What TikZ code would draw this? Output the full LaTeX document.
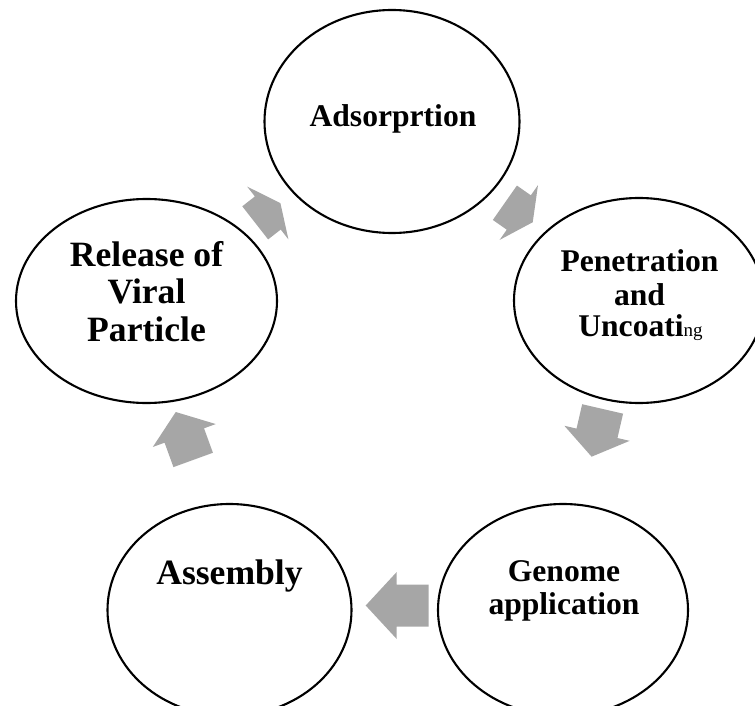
\documentclass[tikz,border=0pt]{standalone}
\usepackage{fontspec}
\setmainfont{Liberation Serif}
\usetikzlibrary{shapes.geometric}
\definecolor{arrowgray}{RGB}{166,166,166}
\tikzset{
  stage/.style={ellipse, draw=black, line width=2.1pt, fill=none, inner sep=0pt},
  stagetext/.style={anchor=base, inner sep=0pt, text=black},
  midtext/.style={stagetext, font=\fontsize{31.6}{31.6}\selectfont\bfseries},
  bigtext/.style={stagetext, font=\fontsize{35.6}{35.6}\selectfont\bfseries},
  cyclearrow/.style={fill=arrowgray, draw=none}
}
% base point x, y, angle, shaft length, head length
\newcommand\cyclearrowat[5]{%
  \fill[cyclearrow, shift={(#1,#2)}, rotate=#3]
    (-#4,-21) -- (0,-21) -- (0,-33.5) -- (#5,0) -- (0,33.5) -- (0,21) -- (-#4,21) -- cycle;}
\begin{document}
\begin{tikzpicture}[x=1pt, y=-1pt]
  \useasboundingbox (0,0) rectangle (755,706);
  % stages
  \node[stage, minimum width=255pt, minimum height=223pt] (ads) at (392,121.5) {};
  \node[stage, minimum width=250pt, minimum height=205pt] (pen) at (639,300.5) {};
  \node[stage, minimum width=250pt, minimum height=212pt] (gen) at (563,610) {};
  \node[stage, minimum width=244pt, minimum height=212pt] (asm) at (229.5,610) {};
  \node[stage, minimum width=261pt, minimum height=204pt] (rel) at (146.5,301) {};
  % texts
  \node[midtext] (ads-t) at (393,126.7) {Adsorprtion};
  \node[midtext] (pen-t1) at (639.5,271.7) {Penetration};
  \node[midtext] (pen-t2) at (639.5,305) {and};
  \node[midtext] (pen-t3) at (640.5,336.7) {Uncoati{\fontsize{19}{19}\selectfont\mdseries ng}};
  \node[midtext] (gen-t1) at (564,581.7) {Genome};
  \node[midtext] (gen-t2) at (564,614) {application};
  \node[bigtext] (asm-t) at (229.5,584) {Assembly};
  \node[bigtext] (rel-t1) at (146.5,266.7) {Release of};
  \node[bigtext] (rel-t2) at (146.5,303.3) {Viral};
  \node[bigtext] (rel-t3) at (146.5,341.5) {Particle};
  % arrows of the cycle
  \cyclearrowat{267.8}{213}{38}{16}{16}
  \cyclearrowat{518.8}{212.5}{-35}{17}{17}
  \cyclearrowat{597}{433.3}{-103}{25}{24}
  \cyclearrowat{396.7}{605.5}{180}{32}{31}
  \cyclearrowat{184.3}{435.5}{110}{26}{25}
\end{tikzpicture}
\end{document}
